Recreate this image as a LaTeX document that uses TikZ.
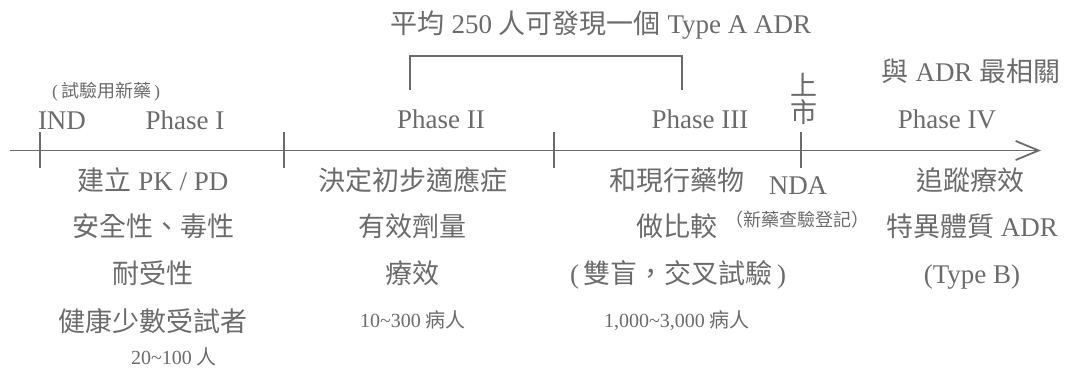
\documentclass[tikz,border=0pt]{standalone}
\usepackage{fontspec}
\setmainfont{Liberation Serif}
\newfontfamily\cjk{Noto Sans CJK TC}
\usetikzlibrary{arrows.meta}
\definecolor{ink}{HTML}{6B6B6B}
\newcommand\zh[1]{{\cjk #1}}
\begin{document}
\begin{tikzpicture}[x=1pt,y=-1pt,
  txt/.style={text=ink, inner sep=0pt, text height=0.8em, text depth=0.2em},
  big/.style={txt, font=\fontsize{27}{32}\selectfont, yshift=-5pt},
  mid/.style={txt, font=\fontsize{20}{24}\selectfont, yshift=-4pt},
  sml/.style={txt, font=\fontsize{18}{20}\selectfont, yshift=-3.5pt},
  axisline/.style={draw=ink, line width=1.8pt},
  tickline/.style={draw=ink, line width=1.8pt},
  bracketline/.style={draw=ink, line width=1.2pt}]
\useasboundingbox (0,0) rectangle (1071,367);

% title and bracket
\node[big] (title) at (601,25) {\zh{平均} 250 \zh{人可發現一個} Type A ADR};
\coordinate (bl) at (410,90);
\coordinate (br) at (682,90);
\draw[bracketline] (bl) -- (bl |- 0,56) -- (br |- 0,56) -- (br);
\node[big] (adr) at (971,73) {\zh{與} ADR \zh{最相關}};

% axis
\coordinate (a0) at (10,150.5);
\coordinate (a1) at (1041,150.5);
\draw[axisline, -{Straight Barb[length=23pt,width=19pt,line width=1.8pt]}] (a0) -- (a1);
\foreach \x/\n in {40/t1,284/t2,554/t3,801/t4}{
  \coordinate (\n a) at (\x,132);
  \coordinate (\n b) at (\x,168);
  \draw[tickline] (\n a) -- (\n b);
}

% upper labels
\node[sml] (ind2) at (106,91) {(\,\zh{試驗用新藥}\,)};
\node[big] (ind) at (62,121) {IND};
\node[big] (p1) at (185,121) {Phase I};
\node[big] (p2) at (441,120) {Phase II};
\node[big] (p3) at (700,120) {Phase III};
\node[txt, font=\fontsize{27}{27}\selectfont, text height=, text depth=, align=center] (sx) at (804,99) {\zh{上}\\\zh{市}};
\node[big] (p4) at (947,120) {Phase IV};

% Phase I column
\node[big] (c1a) at (153,182) {\zh{建立} PK / PD};
\node[big] (c1b) at (153,228) {\zh{安全性、毒性}};
\node[big] (c1c) at (153,275) {\zh{耐受性}};
\node[big] (c1d) at (153,323) {\zh{健康少數受試者}};
\node[mid] (c1e) at (174,357) {20\textasciitilde100 \zh{人}};

% Phase II column
\node[big] (c2a) at (413,182) {\zh{決定初步適應症}};
\node[big] (c2b) at (412,228) {\zh{有效劑量}};
\node[big] (c2c) at (412,275) {\zh{療效}};
\node[mid] (c2d) at (413,320) {10\textasciitilde300 \zh{病人}};

% Phase III column
\node[big] (c3a) at (677,182) {\zh{和現行藥物}};
\node[big] (c3b) at (677,228) {\zh{做比較}};
\node[big] (c3c) at (678,275) {(\,\zh{雙盲，交叉試驗}\,)};
\node[mid] (c3d) at (677,320) {1,000\textasciitilde3,000 \zh{病人}};

% NDA
\node[big] (nda) at (798,186) {NDA};
\node[sml] (nda2) at (797,220) {\zh{（新藥查驗登記）}};

% Phase IV column
\node[big] (c4a) at (970,182) {\zh{追蹤療效}};
\node[big] (c4b) at (972,228) {\zh{特異體質} ADR};
\node[big] (c4c) at (972,275) {(Type B)};
\end{tikzpicture}
\end{document}
